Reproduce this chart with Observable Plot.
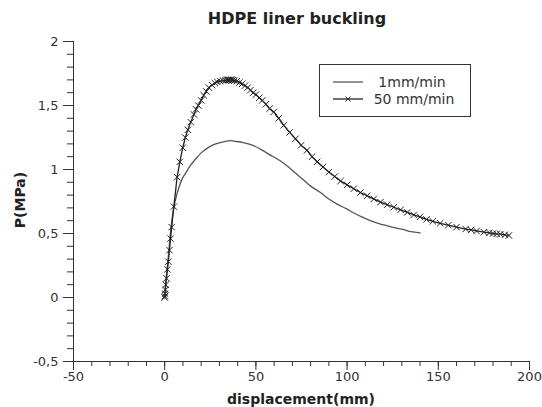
<!DOCTYPE html>
<html>
<head>
<meta charset="utf-8">
<script src="https://cdn.jsdelivr.net/npm/d3@7"></script>
<script src="https://cdn.jsdelivr.net/npm/@observablehq/plot@0.6"></script>
<style>
  html, body { margin: 0; padding: 0; background: #fff; }
  #wrap { position: relative; width: 542px; height: 407px; font-family: "DejaVu Sans", sans-serif; color: #222; }
  #title { position: absolute; top: 9px; left: 297px; transform: translateX(-50%); font-size: 16px; font-weight: bold; white-space: nowrap; }
  #xlabel { position: absolute; top: 391px; left: 301px; transform: translateX(-50%); font-size: 14px; font-weight: bold; white-space: nowrap; }
  #ylabel { position: absolute; top: 200px; left: 20px; transform: translate(-50%, -50%) rotate(-90deg); font-size: 14px; font-weight: bold; white-space: nowrap; }
  #legend { position: absolute; left: 319px; top: 64px; width: 150px; height: 51px; border: 1px solid #333; background: #fff; font-size: 14px; color: #333; }
  .lrow { position: absolute; left: 0; width: 150px; height: 16px; }
  .lrow svg { position: absolute; left: 12px; top: 0; }
  .lrow span { position: absolute; transform: translateX(-50%); top: 0; line-height: 16px; white-space: nowrap; }
  #chart svg { position: absolute; left: 0; top: 0; }
</style>
</head>
<body>
<div id="wrap">
  <div id="chart"></div>
  <div id="title">HDPE liner buckling</div>
  <div id="xlabel">displacement(mm)</div>
  <div id="ylabel">P(MPa)</div>
  <div id="legend">
    <div class="lrow" style="top:9px"><svg width="32" height="16"><line x1="1" y1="8" x2="31" y2="8" stroke="#555" stroke-width="1.3"/></svg><span style="left:92px">1mm/min</span></div>
    <div class="lrow" style="top:26px"><svg width="32" height="16"><line x1="1" y1="8" x2="31" y2="8" stroke="#222" stroke-width="1.3"/><path d="M13.5,5.5L18.5,10.5M18.5,5.5L13.5,10.5" stroke="#222" stroke-width="1"/></svg><span style="left:94px">50 mm/min</span></div>
  </div>
</div>
<script>
// 1 mm/min series
const disp1 = [0, 0.5, 1.5, 2.5, 3.5, 5, 6.2, 7.7, 9.5, 11.4, 14, 16.9, 20, 24.2, 28, 33.3, 36, 38.8, 43, 48, 53, 57, 62, 67, 71, 76, 80, 85.4, 90, 94.6, 100, 103.7, 108, 112.8, 117, 122, 126, 131, 135, 140];
const p1 = [0, 0.1, 0.25, 0.4, 0.55, 0.7, 0.78, 0.855, 0.925, 0.97, 1.03, 1.08, 1.13, 1.175, 1.2, 1.22, 1.225, 1.22, 1.21, 1.19, 1.155, 1.12, 1.08, 1.03, 0.98, 0.92, 0.87, 0.82, 0.77, 0.73, 0.69, 0.66, 0.63, 0.6, 0.58, 0.56, 0.545, 0.53, 0.515, 0.505];

// 50 mm/min series
const disp50 = [0, 0.1, 0.2, 0.4, 0.6, 1, 1.5, 2, 2.6, 3.2, 3.8, 5, 6.8, 8.3, 9.9, 11.3, 12.7, 14.3, 16, 17.2, 18.4, 20, 21.4, 22.8, 24.2, 26, 27.5, 28.8, 30.5, 32, 33.3, 34, 34.7, 35.4, 36, 36.7, 37.4, 38.2, 39.5, 41, 42.5, 44, 45.5, 47, 48.5, 50, 51.8, 53.5, 55.5, 57.5, 59.8, 62.5, 65.3, 68.5, 71.7, 74.8, 78, 80.8, 83.6, 86.8, 90, 93.2, 96.4, 100, 103.7, 107.3, 111, 114.6, 118.3, 122, 125.6, 129.3, 133, 136.5, 140, 143.5, 147, 151, 155.5, 160, 165, 168, 171, 175, 178, 180, 182, 184, 186.5, 188.7];
const p50 = [0, 0.01, 0.03, 0.06, 0.1, 0.15, 0.22, 0.28, 0.37, 0.46, 0.55, 0.71, 0.94, 1.06, 1.17, 1.25, 1.31, 1.37, 1.43, 1.47, 1.5, 1.54, 1.58, 1.61, 1.64, 1.66, 1.675, 1.685, 1.69, 1.695, 1.697, 1.7, 1.7, 1.7, 1.7, 1.7, 1.698, 1.695, 1.69, 1.68, 1.67, 1.655, 1.64, 1.62, 1.6, 1.585, 1.56, 1.54, 1.51, 1.475, 1.45, 1.4, 1.345, 1.29, 1.24, 1.19, 1.15, 1.1, 1.06, 1.02, 0.98, 0.945, 0.91, 0.88, 0.85, 0.82, 0.795, 0.77, 0.745, 0.725, 0.705, 0.685, 0.665, 0.645, 0.63, 0.61, 0.595, 0.58, 0.565, 0.55, 0.535, 0.528, 0.52, 0.51, 0.505, 0.5, 0.497, 0.495, 0.49, 0.485];

// axis ticks
const xTicks = [-50, 0, 50, 100, 150, 200];
const xTickLabels = ["-50", "0", "50", "100", "150", "200"];
const yTicks = [-0.5, 0, 0.5, 1, 1.5, 2];
const yTickLabels = ["-0,5", "0", "0,5", "1", "1,5", "2"];

const rows1 = disp1.map((x, i) => ({x, p: p1[i]}));
const rows50 = disp50.map((x, i) => ({x, p: p50[i]}));
const xMinor = d3.range(-50, 201, 10);
const yMinor = d3.range(-5, 21).map(v => v / 10);

const chart = Plot.plot({
  width: 542,
  height: 407,
  marginTop: 41,
  marginBottom: 46,
  marginLeft: 73,
  marginRight: 13,
  style: {fontFamily: "DejaVu Sans, sans-serif", fontSize: "13px", color: "#333", background: "transparent"},
  x: {domain: [-50, 200]},
  y: {domain: [-0.5, 2]},
  marks: [
    Plot.axisX({ticks: xTicks, tickSize: 9, tickPadding: 1, tickFormat: d => xTickLabels[xTicks.indexOf(d)], label: null}),
    Plot.axisX({ticks: xMinor, tickSize: 5, text: null, label: null}),
    Plot.axisY({ticks: yTicks, tickSize: 10, tickPadding: 5, tickFormat: d => yTickLabels[yTicks.indexOf(d)], label: null}),
    Plot.axisY({ticks: yMinor, tickSize: 6, text: null, label: null}),
    Plot.ruleY([-0.5], {stroke: "#333"}),
    Plot.ruleX([-50], {stroke: "#333"}),
    Plot.line(rows1, {x: "x", y: "p", stroke: "#555", strokeWidth: 1.3, curve: "catmull-rom"}),
    Plot.line(rows50, {x: "x", y: "p", stroke: "#222", strokeWidth: 1.3}),
    Plot.dot(rows50, {x: "x", y: "p", symbol: "times", r: 3, stroke: "#222", strokeWidth: 1})
  ]
});
document.getElementById("chart").appendChild(chart);
</script>
</body>
</html>
